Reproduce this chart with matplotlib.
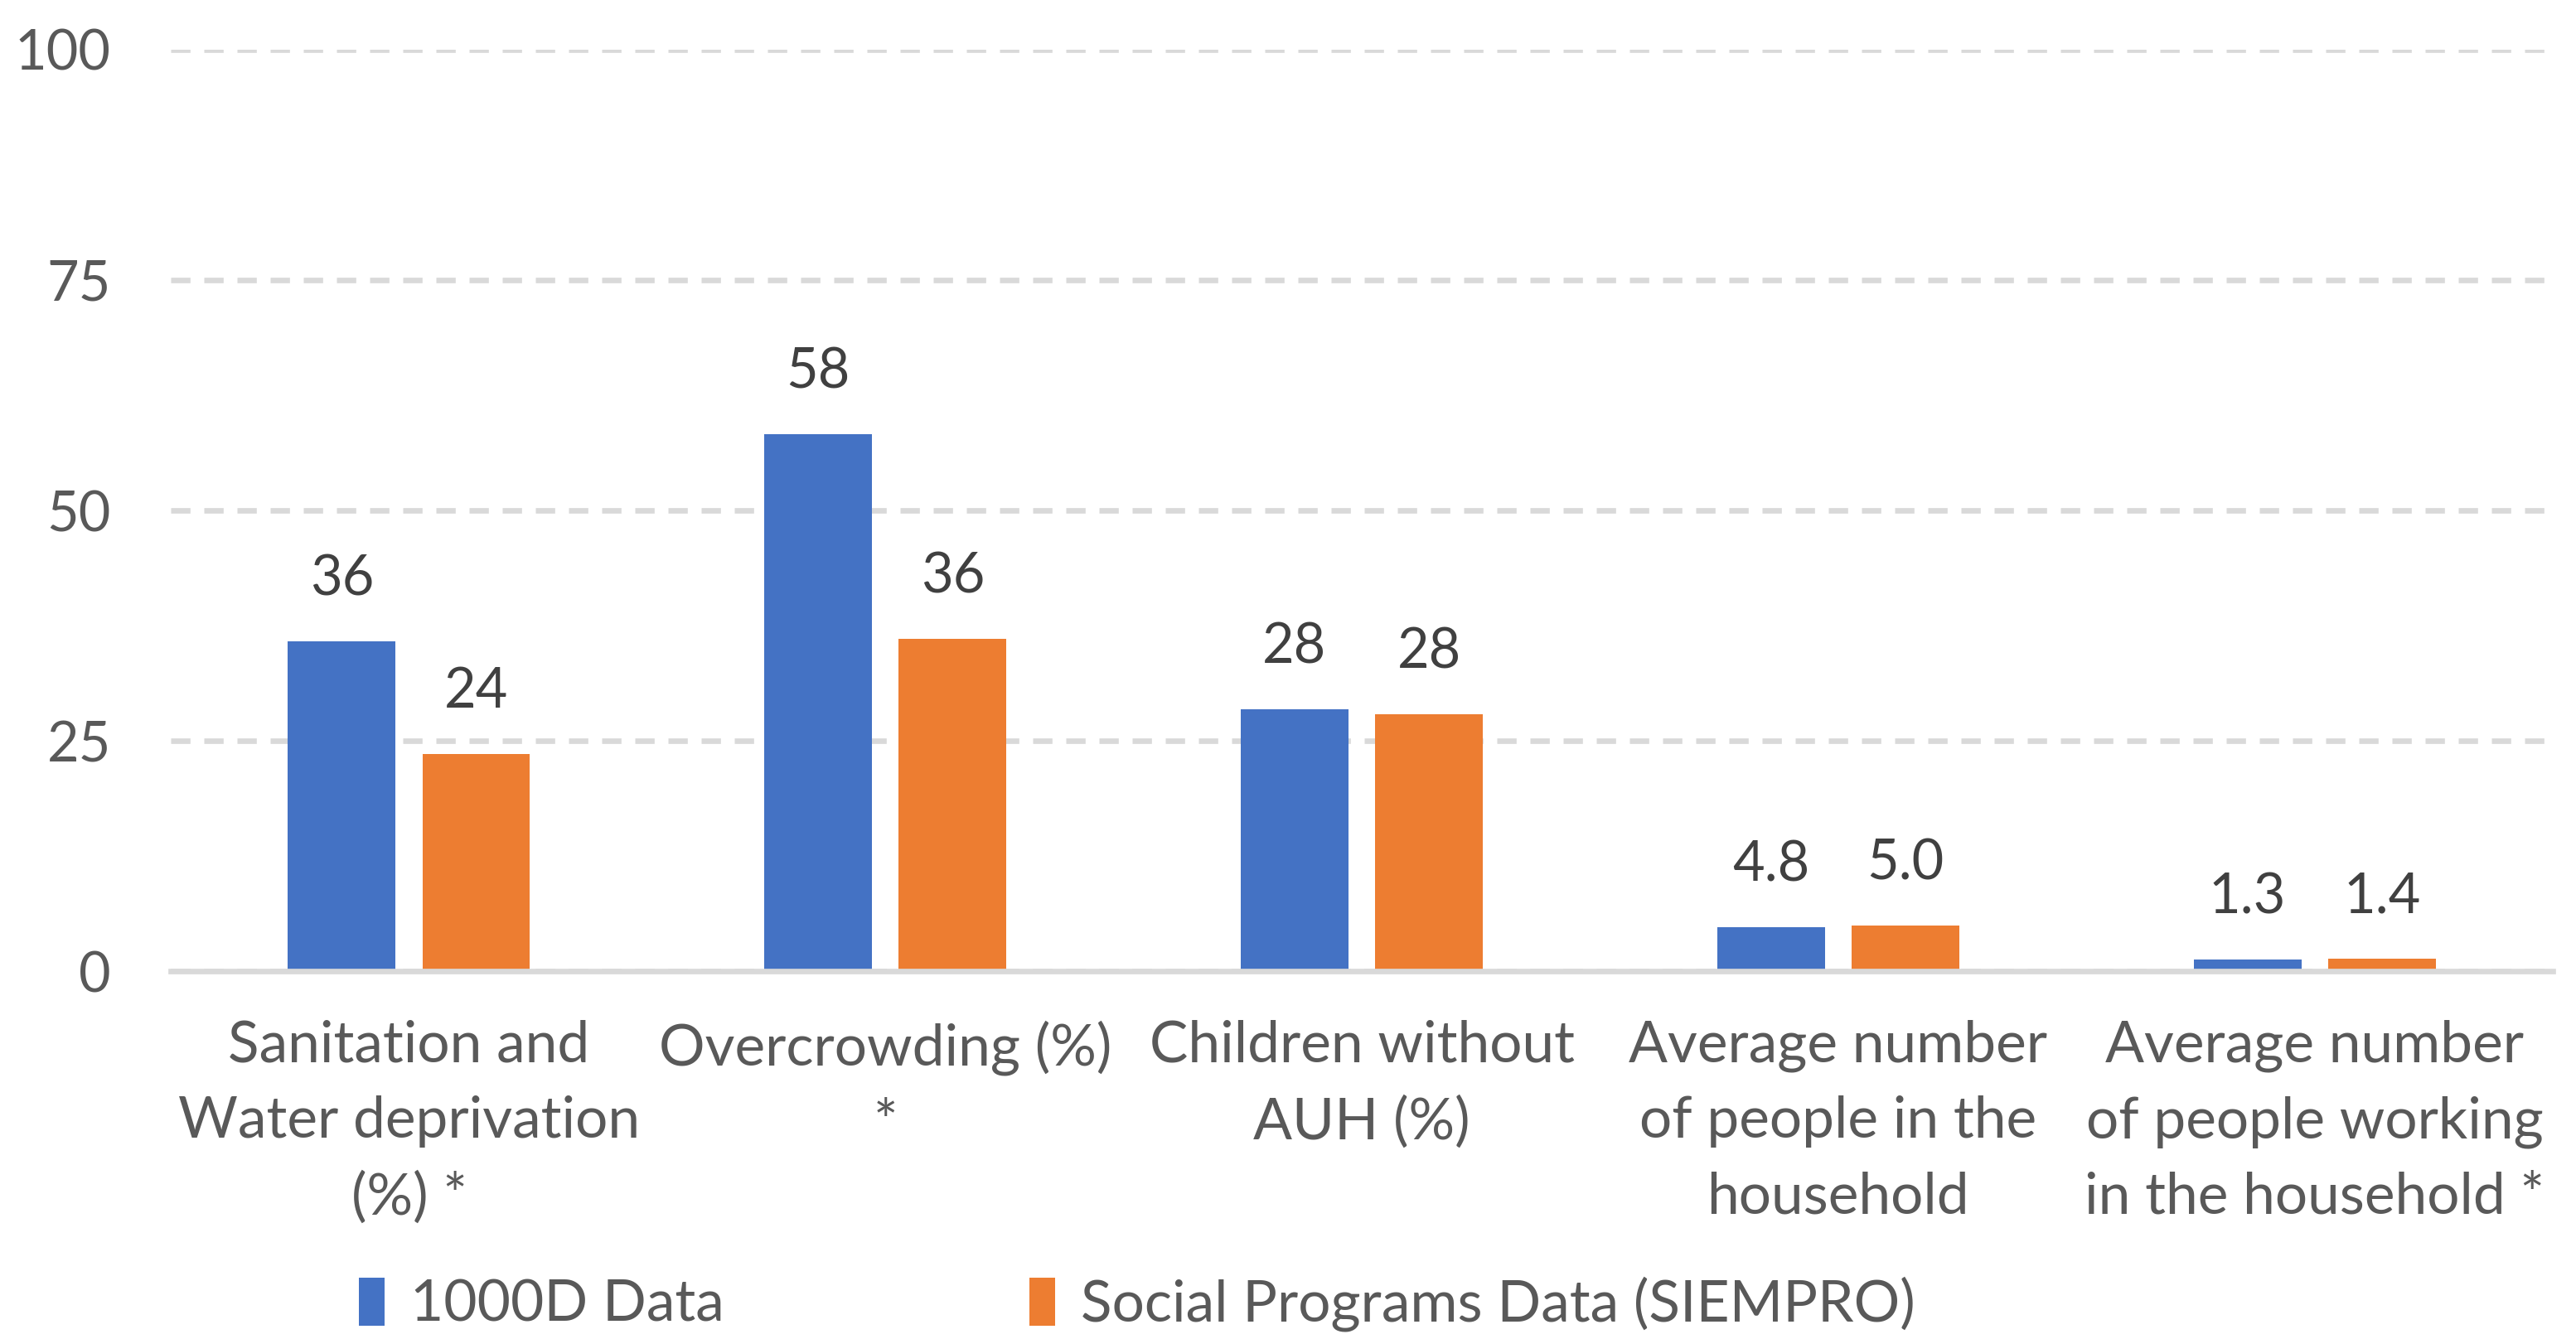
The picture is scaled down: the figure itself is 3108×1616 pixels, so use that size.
import numpy as np
import matplotlib
matplotlib.use("Agg")
import matplotlib.pyplot as plt

categories = ["Sanitation and\nWater deprivation\n(%) *",
              "Overcrowding (%)\n*",
              "Children without\nAUH (%)",
              "Average number\nof people in the\nhousehold",
              "Average number\nof people working\nin the household *"]
data_1000d = [35.8, 58.3, 28.4, 4.8, 1.3]
data_siempro = [23.6, 36.1, 27.9, 5.0, 1.4]
label_fmt = ["%.0f", "%.0f", "%.0f", "%.1f", "%.1f"]
series_names = ["1000D Data", "Social Programs Data (SIEMPRO)"]
yticks = [0, 25, 50, 75, 100]

blue = "#4472C4"
orange = "#ED7D31"
txt = "#595959"
lbl = "#404040"
grid_c = "#D9D9D9"

plt.rcParams['font.family'] = ['Lato', 'DejaVu Sans']

fig = plt.figure(figsize=(15.54, 8.08), dpi=200)
ax = fig.add_axes([0.0663, 0.2745, 0.9247, 0.6885])

x = np.arange(len(categories))
w = 0.226
off = 0.141
b1 = ax.bar(x - off, data_1000d, w, color=blue, label=series_names[0], zorder=3)
b2 = ax.bar(x + off, data_siempro, w, color=orange, label=series_names[1], zorder=3)

for bars, vals in [(b1, data_1000d), (b2, data_siempro)]:
    for i, (r, v) in enumerate(zip(bars, vals)):
        ax.annotate(label_fmt[i] % v, (r.get_x() + r.get_width() / 2, v),
                    xytext=(0, 20), textcoords='offset points',
                    ha='center', va='baseline', fontsize=24, color=lbl)

ax.set_xlim(-0.5, len(categories) - 0.5)
ax.set_ylim(0, 100)
ax.set_yticks(yticks)
ax.set_xticks(x)
ax.set_xticklabels(categories, fontsize=25, color=txt, linespacing=1.55)
ax.tick_params(axis='y', labelsize=24, labelcolor=txt, length=0, pad=26)
ax.tick_params(axis='x', length=0, pad=21)

for s in ['top', 'right', 'left']:
    ax.spines[s].set_visible(False)
ax.spines['bottom'].set_color(grid_c)
ax.spines['bottom'].set_linewidth(2.4)
ax.spines['bottom'].set_zorder(4)

ax.yaxis.grid(True, color=grid_c, linewidth=2.4, linestyle=(0, (3.5, 2.5)), zorder=0)
ax.set_axisbelow(True)

fig.legend(handles=[b1, b2], labels=series_names, loc='center left',
           bbox_to_anchor=(0.128, 0.026), ncol=2, frameon=False,
           fontsize=25, labelcolor=txt, handlelength=0.45, handleheight=0.9,
           handletextpad=0.45, columnspacing=5.3, borderpad=0)

fig.savefig("out.png", dpi=200)
